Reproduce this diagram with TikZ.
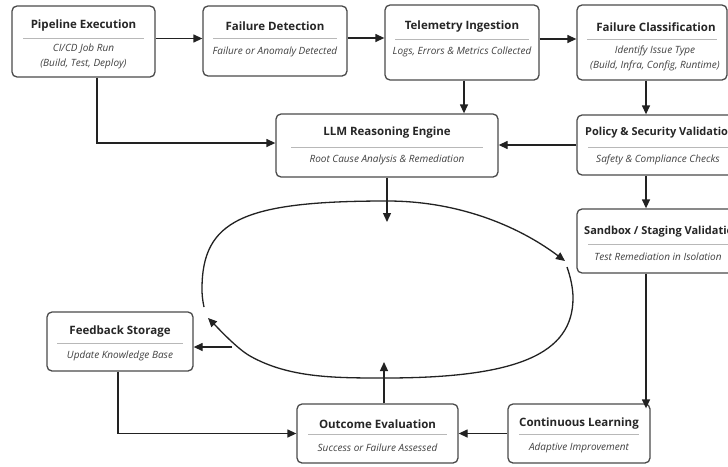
\documentclass[tikz,border=0pt]{standalone}
\usepackage{fontspec}
\setmainfont{Open Sans}
\usetikzlibrary{arrows.meta,fit,calc}
\definecolor{boxline}{HTML}{4A4A4A}
\definecolor{sepline}{HTML}{B8B8B8}
\definecolor{titlecol}{HTML}{262626}
\definecolor{subcol}{HTML}{404040}
\definecolor{conncol}{HTML}{222222}
\begin{document}
\begin{tikzpicture}[x=1pt,y=-1pt,
  stagebox/.style={draw=boxline, line width=1.3pt, rounded corners=5pt, fill=white, inner sep=0pt},
  titletext/.style={font=\bfseries\fontsize{11.5}{13}\selectfont, text=titlecol, inner sep=0pt},
  sidetitle/.style={titletext, font=\bfseries\fontsize{11}{13}\selectfont, anchor=west},
  subtext/.style={font=\itshape\fontsize{10}{15}\selectfont, text=subcol, inner sep=0pt, align=center},
  sepl/.style={draw=sepline, line width=1pt},
  conn/.style={draw=conncol, line width=1.3pt, -{Triangle[length=9pt,width=8pt]}},
  loopline/.style={draw=conncol, line width=1.3pt, -{Triangle[length=9pt,width=8pt]}}
]
\useasboundingbox (0,0) rectangle (728,466);
\clip (0,0) rectangle (728,466);
\fill[white] (0,0) rectangle (728,466);

% ---- boxes ----
\node[stagebox, fit={(12,6)(155,77)}] (pipe) {};
\node[titletext] (pipeT) at (83.5,26) {Pipeline Execution};
\draw[sepl] (23,38) -- (144,38);
\node[subtext] (pipeS) at (83.5,56) {CI/CD Job Run\\(Build, Test, Deploy)};

\node[stagebox, fit={(203,6)(347,76)}] (fd) {};
\node[titletext] (fdT) at (275,26) {Failure Detection};
\draw[sepl] (213,38) -- (337,38);
\node[subtext] (fdS) at (275,52) {Failure or Anomaly Detected};

\node[stagebox, fit={(385,5)(539,80)}] (tel) {};
\node[titletext] (telT) at (462,27) {Telemetry Ingestion};
\draw[sepl] (395,39) -- (529,39);
\node[subtext] (telS) at (462,52) {Logs, Errors \& Metrics Collected};

\node[stagebox, fit={(577,5)(727,80)}] (cls) {};
\node[titletext] (clsT) at (656,27) {Failure Classification};
\draw[sepl] (587,39) -- (717,39);
\node[subtext] (clsS) at (655,58) {Identify Issue Type\\(Build, Infra, Config, Runtime)};

\node[stagebox, fit={(276,114)(498,177)}] (llm) {};
\node[titletext] (llmT) at (387,133) {LLM Reasoning Engine};
\draw[sepl] (291,147) -- (483,147);
\node[subtext] (llmS) at (387,160) {Root Cause Analysis \& Remediation};

\node[stagebox, fit={(577,115)(739,175)}] (pol) {};
\node[sidetitle] (polT) at (585,133) {Policy \& Security Validation};
\draw[sepl] (588,147) -- (730,147);
\node[subtext] (polS) at (658,160) {Safety \& Compliance Checks};

\node[stagebox, fit={(577,209)(739,273)}] (sand) {};
\node[sidetitle] (sandT) at (584,232) {Sandbox / Staging Validation};
\draw[sepl] (588,244) -- (730,244);
\node[subtext] (sandS) at (658,257) {Test Remediation in Isolation};

\node[stagebox, fit={(47,312)(193,371)}] (fb) {};
\node[titletext] (fbT) at (120,332) {Feedback Storage};
\draw[sepl] (57,343) -- (183,343);
\node[subtext] (fbS) at (120,356) {Update Knowledge Base};

\node[stagebox, fit={(297,404)(458,463)}] (out) {};
\node[titletext] (outT) at (377.5,424) {Outcome Evaluation};
\draw[sepl] (308,434) -- (447,434);
\node[subtext] (outS) at (377.5,448) {Success or Failure Assessed};

\node[stagebox, fit={(508,404)(650,463)}] (cl) {};
\node[titletext] (clT) at (579,424) {Continuous Learning};
\draw[sepl] (519,434) -- (639,434);
\node[subtext] (clS) at (579,448) {Adaptive Improvement};

% ---- loop (two arcs, clockwise) ----
\draw[loopline] (204,307) .. controls (202.5,300) and (202,295) .. (202,289)
  .. controls (202,220.4) and (242.7,201) .. (387,201)
  .. controls (457,201) and (517,225) .. (565,261);
\draw[loopline] (567,267) .. controls (570.5,277) and (573,288) .. (573,298)
  .. controls (573,354) and (517,378) .. (385,378)
  .. controls (335,378) and (289,378) .. (250,356)
  .. controls (237,348.6) and (218.6,328.6) .. (208,318);
\coordinate (ellT) at (387,222);
\coordinate (ellB) at (384,362);
\coordinate (ellL) at (232,347);

% ---- connectors ----
\draw[conn] ([yshift=3pt]pipe.east) -- ([yshift=3pt]pipe.east -| fd.west);
\draw[conn] ([yshift=3pt]fd.east) -- ([yshift=3pt]fd.east -| tel.west);
\draw[conn] ([yshift=3.5pt]tel.east) -- ([yshift=3.5pt]tel.east -| cls.west);
\draw[conn] ([xshift=2pt]tel.south) -- ([xshift=2pt]tel.south |- llm.north);
\draw[conn] ([xshift=-6pt]cls.south) -- ([xshift=-6pt]cls.south |- pol.north);
\draw[conn] ([xshift=13.5pt]pipe.south) |- ([yshift=2.5pt]llm.west);
\draw[conn] (pol.west) -- (pol.west -| llm.east);
\draw[conn] ([xshift=-12pt]pol.south) -- ([xshift=-12pt]pol.south |- sand.north);
\draw[conn] ([xshift=-12pt]sand.south) -- ([xshift=-12pt,yshift=-5pt]sand.south |- cl.north);
\draw[conn] (cl.west) -- (cl.west -| out.east);
\draw[conn] ([xshift=-2pt]fb.south) |- (out.west);
\draw[conn] (llm.south) -- (ellT);
\draw[conn] ([xshift=6.5pt]out.north) -- (ellB);
\draw[conn] (ellL) -- (ellL -| fb.east);
\end{tikzpicture}
\end{document}
